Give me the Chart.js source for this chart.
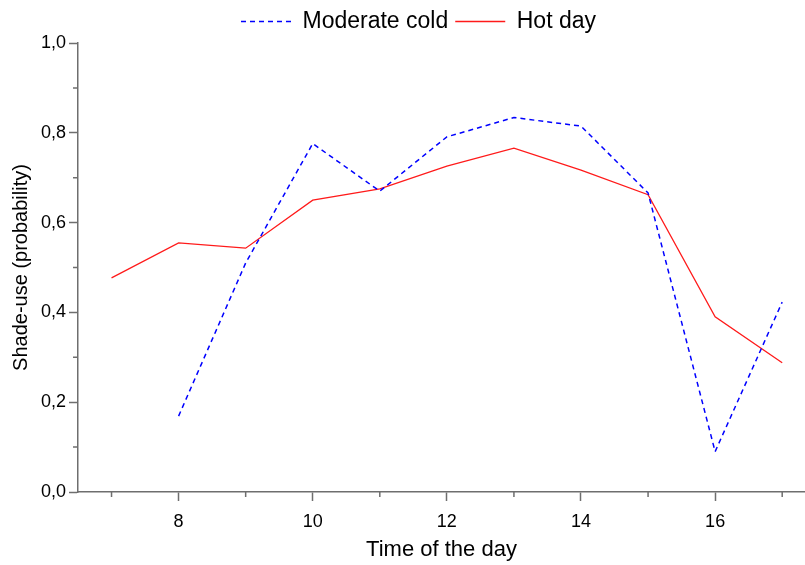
<!DOCTYPE html>
<html>
<head>
<meta charset="utf-8">
<script src="https://cdn.jsdelivr.net/npm/chart.js@4/dist/chart.umd.min.js"></script>
<style>
  html, body { margin: 0; padding: 0; background: #ffffff; overflow: hidden; }
  #wrap { width: 805px; height: 565px; }
</style>
</head>
<body>
<div id="wrap"><canvas id="c" width="805" height="565"></canvas></div>
<script>
// ---- data ----
const hours = [7, 8, 9, 10, 11, 12, 13, 14, 15, 16, 17];
const hotDay = [0.477, 0.555, 0.543, 0.650, 0.675, 0.726, 0.766, 0.717, 0.662, 0.390, 0.288];
const moderateCold = [null, 0.169, 0.510, 0.776, 0.670, 0.791, 0.834, 0.815, 0.666, 0.090, 0.423];
const xMajorTicks = [8, 10, 12, 14, 16];
const xMinorTicks = [7, 9, 11, 13, 15, 17];
const yMajorTicks = [0, 0.2, 0.4, 0.6, 0.8, 1.0];
const yMinorTicks = [0.1, 0.3, 0.5, 0.7, 0.9];
const seriesNames = ['Moderate cold', 'Hot day'];
const xTitle = 'Time of the day';
const yTitle = 'Shade-use (probability)';

const toPoints = (vals) => hours.map((h, i) => ({ x: h, y: vals[i] }));

const AXIS_COLOR = '#6e6e6e';
const FONT = 'Arial, "Liberation Sans", Helvetica, sans-serif';

const minorTicks = {
  id: 'minorTicks',
  afterDraw(chart) {
    const ctx = chart.ctx;
    const xs = chart.scales.x, ys = chart.scales.y;
    const area = chart.chartArea;
    ctx.save();
    ctx.strokeStyle = AXIS_COLOR;
    ctx.lineWidth = 1.5;
    ctx.beginPath();
    xMinorTicks.forEach(v => {
      const px = xs.getPixelForValue(v);
      ctx.moveTo(px, area.bottom);
      ctx.lineTo(px, area.bottom + 5);
    });
    yMinorTicks.forEach(v => {
      const py = ys.getPixelForValue(v);
      ctx.moveTo(area.left, py);
      ctx.lineTo(area.left - 5, py);
    });
    ctx.stroke();
    ctx.restore();
  }
};

const shiftLegend = {
  id: 'shiftLegend',
  afterLayout(chart) {
    const lg = chart.legend;
    if (lg) {
      lg.left += 16; lg.right += 16;
    }
  }
};

new Chart(document.getElementById('c'), {
  type: 'line',
  data: {
    datasets: [
      {
        label: seriesNames[0],
        data: toPoints(moderateCold),
        borderColor: '#0000ff',
        backgroundColor: 'rgba(0,0,0,0)',
        borderWidth: 1.5,
        borderDash: [5, 4],
        pointRadius: 0,
        tension: 0,
        spanGaps: false
      },
      {
        label: seriesNames[1],
        data: toPoints(hotDay),
        borderColor: '#ff1a1a',
        backgroundColor: 'rgba(0,0,0,0)',
        borderWidth: 1.3,
        pointRadius: 0,
        tension: 0
      }
    ]
  },
  options: {
    responsive: false,
    animation: false,
    events: [],
    layout: { padding: { left: 0, right: 0, top: 3, bottom: 0 } },
    plugins: {
      tooltip: { enabled: false },
      legend: {
        display: true,
        position: 'top',
        align: 'center',
        labels: {
          usePointStyle: true,
          pointStyle: 'line',
          pointStyleWidth: 50,
          boxHeight: 20,
          padding: 7,
          color: '#000000',
          font: { family: FONT, size: 23 },
          generateLabels(chart) {
            const items = Chart.defaults.plugins.legend.labels.generateLabels(chart);
            items.forEach(it => {
              const ds = chart.data.datasets[it.datasetIndex];
              it.lineDash = ds.borderDash || [];
              it.strokeStyle = ds.borderColor;
              it.lineWidth = ds.borderWidth;
              it.pointStyle = 'line';
            });
            return items;
          }
        }
      }
    },
    scales: {
      x: {
        type: 'linear',
        min: 6.5,
        max: 17.34,
        afterBuildTicks(scale) { scale.ticks = xMajorTicks.map(v => ({ value: v })); },
        afterFit(scale) { scale.height = 73; },
        grid: {
          drawOnChartArea: false,
          drawTicks: true,
          tickLength: 9,
          tickColor: AXIS_COLOR,
          tickWidth: 1.5
        },
        border: { display: true, color: AXIS_COLOR, width: 1.5 },
        ticks: {
          color: '#000000',
          padding: 10,
          maxRotation: 0,
          font: { family: FONT, size: 18 },
          callback: (v) => String(v)
        },
        title: {
          display: true,
          text: xTitle,
          color: '#000000',
          font: { family: FONT, size: 22 },
          padding: { top: 4, bottom: 2 }
        }
      },
      y: {
        type: 'linear',
        min: 0,
        max: 1.0,
        afterBuildTicks(scale) { scale.ticks = yMajorTicks.map(v => ({ value: v })); },
        afterFit(scale) { scale.width = 78; },
        grid: {
          drawOnChartArea: false,
          drawTicks: true,
          tickLength: 9,
          tickColor: AXIS_COLOR,
          tickWidth: 1.5
        },
        border: { display: true, color: AXIS_COLOR, width: 1.5 },
        ticks: {
          color: '#000000',
          padding: 3,
          font: { family: FONT, size: 18 },
          callback: (v) => Number(v).toFixed(1).replace('.', ',')
        },
        title: {
          display: true,
          text: yTitle,
          color: '#000000',
          font: { family: FONT, size: 20 },
          padding: { top: 9, bottom: 0 }
        }
      }
    }
  },
  plugins: [minorTicks, shiftLegend]
});
</script>
</body>
</html>
